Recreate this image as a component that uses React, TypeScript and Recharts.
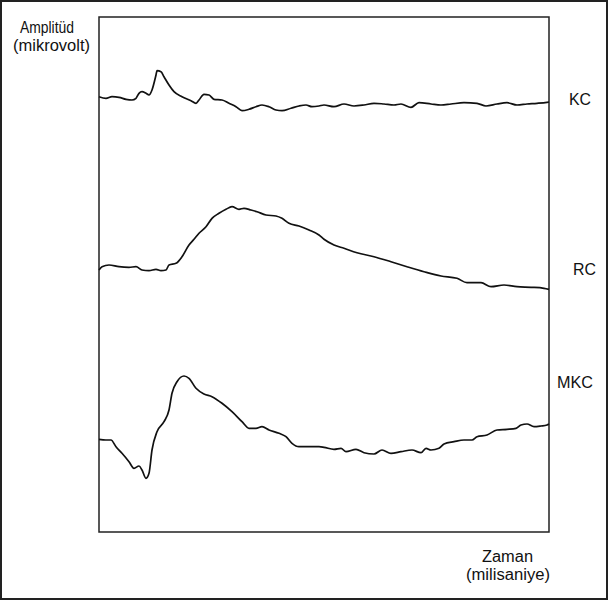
import React from "react";
import { LineChart, Line, XAxis, YAxis, ReferenceArea } from "recharts";

// Time (ms, arbitrary axis units) and amplitude (relative to each trace's baseline)
const kcTime = [0, 7, 13, 20, 27, 33, 37, 40, 43, 47, 50, 53, 57, 58, 62, 65, 70, 75, 83, 92, 97, 100, 105, 110, 115, 123, 130, 137, 143, 150, 157, 163, 170, 177, 183, 192, 200, 207, 213, 220, 225, 235, 245, 255, 265, 275, 285, 295, 302, 312, 320, 332, 342, 352, 365, 378, 387, 398, 408, 418, 428, 438, 448, 450];
const kcAmp = [0, -1.6, 0, -0.6, -2.6, -3.3, -1.6, 3.4, 5, 3.4, 1.7, 6.7, 21.7, 26, 25, 20, 11.7, 5, 0, -4, -6.6, -3.3, 2.4, 1.7, -2.6, -3.3, -6.6, -10, -14, -12.6, -10, -8.3, -10, -13.3, -14, -11.6, -9.3, -8.3, -10, -9.3, -8.3, -10, -7.3, -9.3, -8.3, -6.6, -7.3, -8.3, -7.3, -10.6, -6, -7.3, -8.3, -7.3, -6, -6.6, -9.3, -7.3, -6, -8.3, -7.3, -6.6, -5.6, -5.3];

const rcTime = [0, 3, 10, 20, 30, 37, 43, 50, 57, 62, 67, 70, 77, 83, 90, 95, 100, 107, 113, 120, 127, 133, 140, 145, 152, 158, 167, 177, 183, 190, 200, 210, 220, 225, 235, 245, 258, 275, 292, 308, 325, 342, 358, 368, 382, 392, 405, 418, 432, 445, 450];
const rcAmp = [0, 3.3, 5, 3.3, 2.7, 3.3, 0, -0.7, 0.7, -0.7, 0, 5, 6.7, 13.3, 25, 30.7, 36.7, 43.3, 51.7, 56.7, 60.7, 63.3, 60.7, 61.7, 60, 58.3, 55, 54, 51.7, 46.7, 44, 40, 35, 30.7, 25, 21.7, 17.3, 13.3, 8.3, 3.3, -1.7, -6, -8.3, -12.7, -12.7, -16.7, -15, -16.7, -17.3, -18.3, -19.3];

const mkcTime = [0, 7, 12, 17, 23, 30, 35, 40, 43, 47, 50, 53, 58, 65, 70, 73, 78, 85, 90, 97, 105, 113, 123, 133, 143, 150, 157, 163, 170, 180, 187, 193, 200, 210, 220, 225, 235, 242, 247, 257, 265, 275, 283, 292, 302, 313, 322, 327, 332, 340, 345, 355, 365, 373, 378, 388, 398, 408, 417, 422, 428, 435, 442, 448, 450];
const mkcAmp = [0, -0.7, -0.7, -7.4, -14, -22.4, -29, -26.7, -30.7, -39, -34, -10.7, 7.6, 17.6, 29.3, 46, 57.6, 63.3, 61, 51, 45.3, 42.6, 36, 27.6, 17.6, 11, 11, 12.6, 9.3, 6, 2.6, -4, -7.4, -7.4, -7.4, -8, -10, -9, -12.4, -10, -13.4, -14.7, -10.7, -14, -12.4, -10.7, -13.4, -9, -10.7, -9, -4.7, -2.4, -0.7, -0.7, 2.6, 4.3, 9.3, 10, 11, 14.3, 15.3, 12.6, 13.3, 14.3, 15.3];

const seriesNames = ["KC", "RC", "MKC"];
const axisLabelY = ["Amplitüd", "(mikrovolt)"];
const axisLabelX = ["Zaman", "(milisaniye)"];

// layout constants (vertical stacking of traces)
const OFFSETS = [435.3, 262, 92.7];
const X_MAX = 450;
const Y_MAX = 515;

const build = (t: number[], a: number[], off: number) =>
  t.map((x, i) => ({ t: x, v: off + a[i] }));

const kcData = build(kcTime, kcAmp, OFFSETS[0]);
const rcData = build(rcTime, rcAmp, OFFSETS[1]);
const mkcData = build(mkcTime, mkcAmp, OFFSETS[2]);

const FONT = "'Liberation Sans', Arial, Helvetica, sans-serif";

export default function App() {
  return (
    <div
      style={{
        position: "absolute",
        left: 0,
        top: 0,
        width: 608,
        height: 600,
        boxSizing: "border-box",
        border: "2px solid #222",
        background: "#fff",
      }}
    >
      <LineChart
        width={604}
        height={596}
        margin={{ top: 15, right: 57, bottom: 66, left: 97 }}
      >
        <XAxis dataKey="t" type="number" domain={[0, X_MAX]} hide />
        <YAxis type="number" domain={[0, Y_MAX]} hide />
        <ReferenceArea
          x1={0}
          x2={X_MAX}
          y1={0}
          y2={Y_MAX}
          fill="none"
          stroke="#222"
          strokeWidth={1.5}
        />
        <Line data={kcData} dataKey="v" type="monotone" dot={false} stroke="#111" strokeWidth={1.7} isAnimationActive={false} />
        <Line data={rcData} dataKey="v" type="monotone" dot={false} stroke="#111" strokeWidth={1.7} isAnimationActive={false} />
        <Line data={mkcData} dataKey="v" type="monotone" dot={false} stroke="#111" strokeWidth={1.7} isAnimationActive={false} />
      </LineChart>
      <svg
        width={608}
        height={600}
        style={{ position: "absolute", left: -2, top: -2, pointerEvents: "none" }}
      >
        <g fontFamily={FONT} fontSize={16} fill="#111">
          <text x={20} y={33} textLength={54} lengthAdjust="spacingAndGlyphs">{axisLabelY[0]}</text>
          <text x={13} y={51} textLength={77} lengthAdjust="spacingAndGlyphs">{axisLabelY[1]}</text>
          <text x={482} y={562} textLength={51} lengthAdjust="spacingAndGlyphs">{axisLabelX[0]}</text>
          <text x={466} y={580} textLength={84} lengthAdjust="spacingAndGlyphs">{axisLabelX[1]}</text>
          <text x={569} y={105} textLength={22} lengthAdjust="spacingAndGlyphs">{seriesNames[0]}</text>
          <text x={573} y={275} textLength={23} lengthAdjust="spacingAndGlyphs">{seriesNames[1]}</text>
          <text x={557} y={388} textLength={36} lengthAdjust="spacingAndGlyphs">{seriesNames[2]}</text>
        </g>
      </svg>
    </div>
  );
}
